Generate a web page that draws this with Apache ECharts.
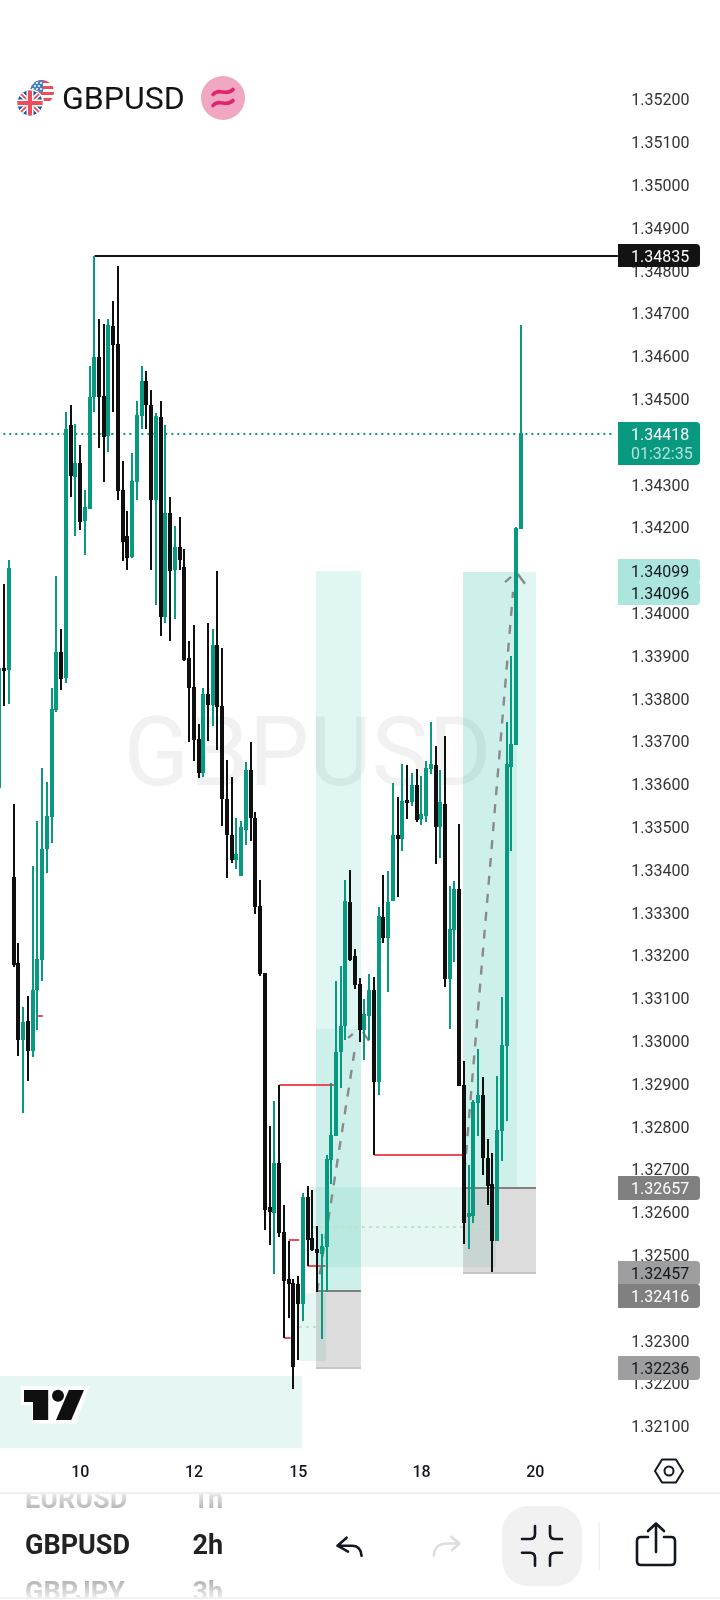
<!DOCTYPE html>
<html><head><meta charset="utf-8">
<script src="https://cdn.jsdelivr.net/npm/echarts@6/dist/echarts.min.js"></script>
<style>html,body{margin:0;padding:0;background:#fff}#c{width:720px;height:1600px}</style>
</head><body><div id="c"></div>
<script>
// ---- candle values (prices x 1e5) ----
const opens=[133593,133869,133869,133381,133180,133004,133044,132979,133121,133191,133451,133525,133775,133906,133850,134437,134320,134348,134217,134245,134507,134596,134504,134416,134668,134626,134285,134177,134133,134308,134462,134540,134483,134266,134455,133993,134231,134103,134152,134105,133892,133825,133703,133628,133808,133787,133923,133780,133563,133479,133425,133388,133495,133631,133518,133313,133156,132610,132600,132712,132551,132441,132432,132430,132388,132633,132537,132511,132504,132521,132724,132780,132976,133037,133322,133196,133131,133028,133061,133117,132906,133287,133243,133329,133479,133474,133561,133561,133596,133521,133528,133638,133642,133502,133551,133147,133261,133353,132895,132592,132593,132857,132871,132724,132663,132535,132792,132990,133642,133694,134198];
const closes=[133869,133867,134103,133180,133004,133042,132979,133117,133189,133446,133523,133773,133906,133848,134427,134322,134348,134215,134245,134502,134596,134507,134413,134670,134628,134287,134168,134131,134306,134460,134540,134488,134266,134458,133993,134231,134100,134152,134126,133892,133827,133705,133628,133808,133787,133923,133782,133568,133483,133425,133434,133497,133631,133523,133315,133159,132607,132603,132712,132554,132441,132434,132241,132388,132633,132537,132514,132507,132518,132722,132778,132972,133032,133325,133191,133133,133028,133061,133117,132906,133289,133243,133322,133479,133474,133558,133558,133596,133518,133528,133635,133645,133502,133556,133147,133259,133353,132897,132577,132595,132855,132871,132729,132663,132535,132790,132988,133645,133691,134196,134418];
const lows=[133591,133782,133787,133173,132965,132832,132906,132962,133025,133140,133392,133462,133768,133820,133836,134271,134180,134194,134135,134243,134469,134385,134306,134376,134469,134264,134121,134100,134128,134264,134430,134430,134100,134018,133946,133976,133934,133986,134100,133888,133698,133654,133614,133617,133701,133736,133680,133502,133381,133416,133402,133385,133458,133467,133296,133152,132558,132523,132455,132542,132306,132353,132187,132255,132346,132474,132509,132413,132304,132413,132666,132778,132890,133002,133187,133121,132997,132955,133002,132733,132874,133229,133114,133327,133336,133444,133518,133549,133511,133505,133511,133624,133413,133427,133126,133028,133184,132895,132525,132514,132575,132778,132687,132617,132460,132532,132719,132813,133444,133691,134196];
const highs=[133871,134068,134124,133553,133229,133079,133105,133409,133514,133638,133605,133825,134086,133962,134469,134486,134441,134392,134287,134577,134835,134687,134675,134687,134729,134810,134355,134238,134374,134495,134577,134565,134521,134467,134495,134439,134271,134203,134224,134149,133934,133972,133740,133825,133976,133962,134098,133918,133656,133617,133521,133514,133652,133698,133535,133376,133159,132801,132860,132897,132617,132532,132444,132451,132645,132661,132652,132568,132549,132733,132902,133140,133175,133376,133399,133215,133147,133098,133156,133149,133313,133388,133397,133603,133570,133647,133645,133626,133635,133619,133654,133745,133689,133633,133712,133362,133374,133507,132953,132710,132862,132981,132916,132771,132738,132918,133103,133745,133899,134201,134673];
// ---- axes ----
const barSlots=131;
const dayTickBars=[17,41,63,89,113];
const dayTickLabels=['10','12','15','18','20'];
const yTicksMin=1.321, yTicksMax=1.352;
// ---- shaded zones: bar position and price bounds ----
const zoneFrom=[-0.5,65.46,63.14,66.73,66.73,66.73,97.74,97.74,97.74];
const zoneTo  =[63.8,104.7,68.84,76.2,76.2,76.2,113.14,109.14,113.14];
const zoneHigh=[1.32217,1.32659,1.32411,1.34099,1.33028,1.32416,1.34096,1.34096,1.32657];
const zoneLow =[1.32049,1.32472,1.32252,1.32416,1.32416,1.32236,1.32657,1.32657,1.32457];
const zoneKind=['pale','pale','pale','teal','tealDeep','gray','teal','tealDeep','gray'];
// ---- line segments: bar position and price ----
const segFromBar=[20,-0.5,59,79,61,65,60,8,66.73,66.73,97.74,97.74,66.1,63.14,66.94,73.5,76.6,97.74,106.6,109.3];
const segFromPx =[1.34835,1.34418,1.32897,1.32733,1.32535,1.32474,1.32306,1.33058,1.32416,1.32236,1.32657,1.32457,1.32565,1.32332,1.32413,1.33007,1.33021,1.32652,1.34072,1.34091];
const segToBar  =[130.4,129.4,70.5,98,63.2,68.7,61.4,9.1,76.2,76.2,113.14,113.14,103.4,68.4,74.96,74.5,77.9,108.3,107.9,110.8];
const segToPx   =[1.34835,1.34418,1.32897,1.32733,1.32535,1.32474,1.32306,1.33058,1.32416,1.32236,1.32657,1.32457,1.32565,1.32332,1.32983,1.33016,1.33000,1.34049,1.34084,1.34068];
const segKind=['black','price','red','red','red','red','red','red','grayTop','grayEdge','grayTop','grayEdge','mint','mint','trend','head','head','trend','head','head'];
// ---- right axis tags ----
const tagPrices=[1.34835,1.34418,1.34099,1.34096,1.32657,1.32457,1.32416,1.32236];
const tagCountdown='01:32:35';

const ZONE_STYLE={pale:'rgba(0,170,140,0.10)',teal:'rgba(0,180,150,0.12)',tealDeep:'rgba(0,180,150,0.08)',gray:'rgba(120,120,120,0.26)'};
const SEG_STYLE={
 black:{stroke:'#131313',lineWidth:2},
 price:{stroke:'#089981',lineWidth:2,lineDash:[2,4]},
 red:{stroke:'#F23645',lineWidth:2,opacity:.9},
 grayTop:{stroke:'#808080',lineWidth:2},
 grayEdge:{stroke:'#C6C6C6',lineWidth:2},
 mint:{stroke:'#BCE5C6',lineWidth:2,lineDash:[3,4]},
 trend:{stroke:'#8A8A8A',lineWidth:2.4,lineDash:[9,9]},
 head:{stroke:'#8A8A8A',lineWidth:2.4}
};
const TAG_STYLE=[
 {bg:'#131313',fg:'#fff',dy:0,h:23},
 {bg:'#089981',fg:'#fff',dy:0,h:43,top:-12},
 {bg:'#ACE5DC',fg:'#131722',dy:0,h:24},
 {bg:'#ACE5DC',fg:'#131722',dy:21.5,h:24},
 {bg:'#808080',fg:'#fff',dy:0,h:24},
 {bg:'#9E9E9E',fg:'#131722',dy:0,h:24},
 {bg:'#808080',fg:'#fff',dy:5,h:24},
 {bg:'#9E9E9E',fg:'#131722',dy:0,h:24}
];
const UP='#089981',DOWN='#0F0F0F',INK='#131722';
const FONT='Roboto';
const categories=Array.from({length:barSlots},(_,i)=>String(i));
const candles=opens.map((o,i)=>[i,o/1e5,closes[i]/1e5,lows[i]/1e5,highs[i]/1e5]);

const usFlag='<svg xmlns="http://www.w3.org/2000/svg" viewBox="0 0 24 24"><clipPath id="c"><circle cx="12" cy="12" r="12"/></clipPath><g clip-path="url(#c)"><rect width="24" height="24" fill="#fff"/><g fill="#ED4C5C"><rect width="24" height="3"/><rect y="6" width="24" height="3"/><rect y="12" width="24" height="3"/><rect y="18" width="24" height="3"/></g><rect width="13" height="12" fill="#4A7FC1"/><g fill="#fff"><circle cx="3" cy="3" r="1"/><circle cx="7" cy="3" r="1"/><circle cx="11" cy="3" r="1"/><circle cx="5" cy="6" r="1"/><circle cx="9" cy="6" r="1"/><circle cx="3" cy="9" r="1"/><circle cx="7" cy="9" r="1"/><circle cx="11" cy="9" r="1"/></g></g></svg>';
const gbFlag='<svg xmlns="http://www.w3.org/2000/svg" viewBox="0 0 28 28"><circle cx="14" cy="14" r="14" fill="#fff"/><clipPath id="g"><circle cx="14" cy="14" r="12.5"/></clipPath><g clip-path="url(#g)"><rect width="28" height="28" fill="#1F4FA3"/><path d="M0 0L28 28M28 0L0 28" stroke="#fff" stroke-width="5"/><path d="M0 0L28 28M28 0L0 28" stroke="#ED4C5C" stroke-width="1.8"/><path d="M14 0V28M0 14H28" stroke="#fff" stroke-width="7"/><path d="M14 0V28M0 14H28" stroke="#ED4C5C" stroke-width="4"/></g></svg>';
const svgUri=s=>'data:image/svg+xml;charset=utf-8,'+encodeURIComponent(s);
const stroke=(c,w)=>({fill:'none',stroke:c,lineWidth:w,lineCap:'round',lineJoin:'round'});
const txt=(t,x,y,size,weight,color,align,z)=>({type:'text',z:z||60,x,y,style:{text:t,font:`${weight} ${size}px ${FONT}`,fill:color,textAlign:align||'left',textVerticalAlign:'middle'}});

const ICON_PATHS=[
 ['M213 94.5C218 87.5 227 96.5 233 89.5M213 105.5C218 98.5 227 107.5 233 100.5','#E0256F',3.6],
 ['M346.6 1537.7L337.5 1545.7L348 1551.7M337.5 1545.7H352C358 1545.7 361.5 1550 361.5 1555.7',INK,2.6],
 ['M451.3 1536.7L459.5 1543.5L452 1550M459.5 1543.5H447C439 1543.5 434 1548 434 1555.5','#DDDDDD',2.6],
 ['M535 1526V1534Q535 1539 530 1539H522M550 1526V1534Q550 1539 555 1539H562M522 1552.7H530Q535 1552.7 535 1557.7V1565.7M562 1552.7H555Q550 1552.7 550 1557.7V1565.7',INK,2.6],
 ['M648 1537H641Q637 1537 637 1541V1561Q637 1565 641 1565H671Q675 1565 675 1561V1541Q675 1537 671 1537H664M656 1552V1523.5M648 1531L656 1523.5L664 1531',INK,2.6]
];

const graphics=[
 // watermark
 {type:'text',z:0,x:307.5,y:761,style:{text:'GBPUSD',font:`400 96px ${FONT}`,fill:'#F1F1F1',textAlign:'center',textVerticalAlign:'middle'}},
 // header
 {type:'image',z:60,style:{image:svgUri(usFlag),x:30,y:80,width:24,height:24}},
 {type:'image',z:61,style:{image:svgUri(gbFlag),x:16,y:89,width:28,height:28}},
 txt('GBPUSD',62,101,32,400,'#131313'),
 {type:'circle',z:60,shape:{cx:223,cy:98,r:22},style:{fill:'#F1A6C2'}},
 // logo
 {type:'polygon',z:60,shape:{points:[[20.7,1386],[89.5,1386],[76,1423.5],[32,1423.5],[32,1405],[20.7,1405]]},style:{fill:'#fff'}},
 {type:'polygon',z:61,shape:{points:[[24,1390],[48.2,1390],[48.2,1420],[33,1420],[33,1402],[24,1402]]},style:{fill:'#0F0F0F'}},
 {type:'circle',z:61,shape:{cx:58,cy:1395.7,r:6},style:{fill:'#0F0F0F'}},
 {type:'polygon',z:61,shape:{points:[[68.9,1390],[84,1390],[71.2,1420],[56,1420]]},style:{fill:'#0F0F0F'}},
 // axis settings icon
 {type:'polygon',z:60,shape:{points:[[655,1471],[662,1459.5],[676,1459.5],[683,1471],[676,1482.5],[662,1482.5]]},style:stroke(INK,2)},
 {type:'circle',z:60,shape:{cx:669,cy:1471,r:4.5},style:stroke(INK,2)},
 // toolbar text
 txt('EURUSD',25,1501,27,700,'#A8A8A8'),
 txt('1h',223,1501,27,700,'#A8A8A8','right'),
 txt('GBPUSD',25,1547,27,700,'#222222'),
 txt('2h',223,1547,27,700,'#222222','right'),
 txt('GBPJPY',25,1594,27,700,'#A8A8A8'),
 txt('3h',223,1594,27,700,'#A8A8A8','right'),
 {type:'rect',z:62,shape:{x:0,y:1482,width:240,height:11},style:{fill:'#fff'}},
 {type:'rect',z:62,shape:{x:0,y:1493,width:240,height:17},style:{fill:{type:'linear',x:0,y:0,x2:0,y2:1,colorStops:[{offset:0,color:'rgba(255,255,255,.75)'},{offset:1,color:'rgba(255,255,255,.1)'}]}}},
 {type:'rect',z:62,shape:{x:0,y:1580,width:240,height:18},style:{fill:{type:'linear',x:0,y:0,x2:0,y2:1,colorStops:[{offset:0,color:'rgba(255,255,255,.1)'},{offset:1,color:'rgba(255,255,255,.8)'}]}}},
 {type:'rect',z:62,shape:{x:0,y:1598,width:720,height:2},style:{fill:'#fff'}},
 {type:'rect',z:63,shape:{x:0,y:1492,width:720,height:2},style:{fill:'#EFEFEF'}},
 {type:'rect',z:63,shape:{x:0,y:1597.5,width:720,height:1.5},style:{fill:'#EFEFEF'}},
 // toolbar shapes
 {type:'rect',z:60,shape:{x:502,y:1506,width:80,height:80,r:26},style:{fill:'#F1F1F1'}},
 {type:'rect',z:60,shape:{x:598.5,y:1522,width:1.5,height:48},style:{fill:'#F0F0F0'}}
];

const chart=echarts.init(document.getElementById('c'),null,{renderer:'canvas',width:720,height:1600});
chart.setOption({
 animation:false,backgroundColor:'#fff',
 grid:{left:-2.67,top:56.5,width:4.74*barSlots,height:1412.4,containLabel:false,outerBoundsMode:'none'},
 xAxis:[
  {type:'category',data:categories,boundaryGap:true,axisLine:{show:false},axisTick:{show:false},splitLine:{show:false},
   axisLabel:{interval:0,hideOverlap:false,showMinLabel:true,showMaxLabel:true,formatter:(v,i)=>{const k=dayTickBars.indexOf(+v);return k<0?'':dayTickLabels[k];},
    margin:4,verticalAlign:'middle',fontFamily:FONT,fontSize:16,fontWeight:500,color:INK}},
  {type:'value',show:false,min:-0.5,max:barSlots-0.5,splitLine:{show:false}}
 ],
 yAxis:{type:'value',position:'right',min:1.32,max:1.353,interval:0.001,scale:true,axisLine:{show:false},axisTick:{show:false},splitLine:{show:false},
  axisLabel:{margin:13,fontFamily:FONT,fontSize:16,color:'#333333',showMinLabel:true,showMaxLabel:true,
   rich:{t:{padding:[4,0,0,0],fontFamily:FONT,fontSize:16,color:'#333333'}},
   formatter:v=>(v<yTicksMin-1e-6||v>yTicksMax+1e-6)?'':'{t|'+v.toFixed(5)+'}'}},
 graphic:{elements:graphics},
 series:[
  {type:'custom',name:'zones',xAxisIndex:1,yAxisIndex:0,z:1,silent:true,
   data:zoneFrom.map((x,i)=>[x,zoneTo[i],zoneHigh[i],zoneLow[i],i]),encode:{x:[0,1],y:[2,3]},
   renderItem:(p,api)=>{const a=api.coord([api.value(0),api.value(2)]),b=api.coord([api.value(1),api.value(3)]);
    const x=Math.round(a[0]),y=Math.round(a[1]);
    return {type:'rect',shape:{x,y,width:Math.round(b[0])-x,height:Math.round(b[1])-y},style:{fill:ZONE_STYLE[zoneKind[api.value(4)]]}};}},
  {type:'custom',name:'levels',xAxisIndex:1,yAxisIndex:0,z:2,silent:true,clip:false,
   data:segFromBar.map((x,i)=>[x,segFromPx[i],segToBar[i],segToPx[i],i]),encode:{x:[0,2],y:[1,3]},
   renderItem:(p,api)=>{const a=api.coord([api.value(0),api.value(1)]),b=api.coord([api.value(2),api.value(3)]);
    if(a[1]===b[1]){a[1]=b[1]=Math.round(a[1]);}
    return {type:'line',shape:{x1:a[0],y1:a[1],x2:b[0],y2:b[1]},style:Object.assign({fill:null},SEG_STYLE[segKind[api.value(4)]])};}},
  {type:'custom',name:'GBPUSD',xAxisIndex:0,yAxisIndex:0,z:3,silent:true,clip:false,data:candles,
   dimensions:['bar','open','close','low','high'],encode:{x:0,y:[1,2,3,4]},
   renderItem:(p,api)=>{
    const i=api.value(0),o=api.value(1),c=api.value(2);
    const cx=Math.round(api.coord([i,o])[0]-0.25);
    const yo=Math.round(api.coord([i,o])[1]),yc=Math.round(api.coord([i,c])[1]);
    const yl=Math.round(api.coord([i,api.value(3)])[1]),yh=Math.round(api.coord([i,api.value(4)])[1]);
    const col=c>=o?UP:DOWN,top=Math.min(yo,yc),bot=Math.max(yo,yc);
    return {type:'group',children:[
     {type:'rect',shape:{x:cx-1,y:yh,width:2,height:yl-yh},style:{fill:col}},
     {type:'rect',shape:{x:cx-2,y:top-1,width:4,height:bot-top+2},style:{fill:col}}
    ]};}},
  {type:'custom',name:'tags',xAxisIndex:1,yAxisIndex:0,z:5,silent:true,clip:false,
   data:tagPrices.map((v,i)=>[0,v,i]),encode:{x:0,y:1},
   renderItem:(p,api)=>{const i=api.value(2),s=TAG_STYLE[i],y=Math.round(api.coord([0,api.value(1)])[1]+s.dy),top=y+(s.top!==undefined?s.top:-Math.round(s.h/2));
    const kids=[
     {type:'rect',shape:{x:618,y:top,width:82,height:s.h,r:[0,4,4,0]},style:{fill:s.bg}},
     {type:'text',x:631,y:y+1.5,style:{text:api.value(1).toFixed(5),font:`400 16px ${FONT}`,fill:s.fg,textVerticalAlign:'middle'}}];
    if(s.top!==undefined)kids.push({type:'text',x:631,y:y+21,style:{text:tagCountdown,font:`400 16px ${FONT}`,fill:'#B4E2D8',textVerticalAlign:'middle'}});
    return {type:'group',children:kids};}},
  {type:'custom',name:'icons',xAxisIndex:1,yAxisIndex:0,z:70,silent:true,clip:false,
   data:ICON_PATHS.map((_,i)=>[0,1.33,i]),encode:{x:0,y:1},
   renderItem:(p,api)=>{const ic=ICON_PATHS[api.value(2)];
    return {type:'path',shape:{pathData:ic[0]},style:stroke(ic[1],ic[2])};}}
 ]
});
</script></body></html>
